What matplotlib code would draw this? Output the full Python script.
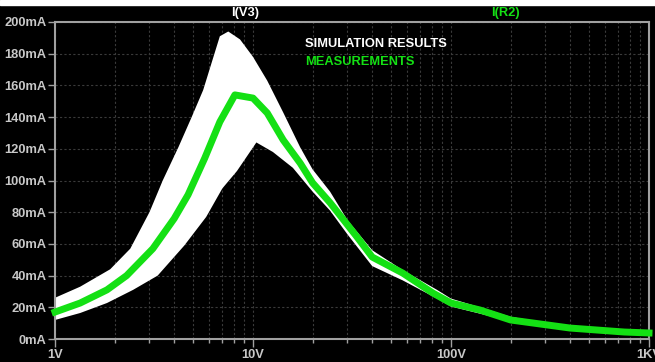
import numpy as np
import matplotlib
matplotlib.use("Agg")
import matplotlib.pyplot as plt
from matplotlib.patches import Rectangle
from matplotlib.ticker import FixedLocator, NullFormatter

# simulation envelope (white band)
sim_hi_v = [1, 1.34, 1.9, 2.4, 3.0, 3.5, 4.2, 4.9, 5.6, 6.8, 7.5, 8.6, 10, 11.8,
            14.2, 17.3, 20, 24.5, 30, 40, 57, 85, 100, 140, 200, 400, 1000]
sim_hi_ma = [26, 33, 44, 57, 80, 100, 121, 140, 157, 191, 194, 189, 178, 163,
             143, 121, 107, 93, 75, 56, 43.5, 31, 25.5, 20, 14, 7.6, 4.6]
sim_lo_v = [1, 1.34, 1.83, 2.48, 3.3, 4.5, 5.8, 7.0, 8.3, 10.4, 12.6, 15.9, 20,
            24.5, 30, 40, 57, 85, 100, 140, 200, 400, 1000]
sim_lo_ma = [12, 16.4, 22.7, 31, 40, 59, 77, 95, 106, 124, 118, 108, 93,
             81, 66, 46, 37, 25.5, 20.5, 16, 11, 6, 3.2]

# measurement (green)
meas_v = [1, 1.34, 1.83, 2.3, 3.12, 4.0, 4.7, 5.7, 6.8, 8.1, 10, 11.8, 14.2,
          17.3, 20, 24.5, 33.5, 40, 57, 81, 100, 140, 200, 400, 750, 1000]
meas_ma = [17, 22.7, 31, 40, 57, 76, 91, 114, 137, 154, 152, 142.6, 125.6,
           111, 98.5, 86, 64.4, 51.7, 41.6, 29, 22.7, 18.3, 12, 6.9, 4.4, 3.8]

x_ticks = [1, 10, 100, 1000]
x_labels = ["1V", "10V", "100V", "1KV"]
y_ticks = list(range(0, 201, 20))
y_labels = [f"{v}mA" for v in y_ticks]

W, H = 655, 362
fig = plt.figure(figsize=(W / 100, H / 100), dpi=100, facecolor="black")
fig.patches.append(Rectangle((0, 1 - 5 / H), 1, 5 / H, transform=fig.transFigure,
                             color="white", zorder=0))

ax = fig.add_axes([55 / W, 1 - 339 / H, 594 / W, 317 / H])
ax.set_facecolor("black")
ax.set_xscale("log")
ax.set_xlim(1, 1000)
ax.set_ylim(0, 200)

grid_col = "#3a3a3a"
ax.xaxis.set_minor_locator(FixedLocator([m * d for d in (1, 10, 100) for m in range(2, 10)]))
ax.xaxis.set_minor_formatter(NullFormatter())
ax.grid(which="both", axis="x", color=grid_col, linestyle=(0, (2, 2)), lw=0.8)
ax.grid(which="major", axis="y", color=grid_col, linestyle=(0, (2, 2)), lw=0.8)
ax.set_axisbelow(True)

ax.set_xticks(x_ticks)
ax.set_xticklabels(x_labels)
ax.set_yticks(y_ticks)
ax.set_yticklabels(y_labels)

lab_col = "#c8c8c8"
for lab in ax.get_xticklabels() + ax.get_yticklabels():
    lab.set_fontfamily("Liberation Sans")
    lab.set_fontweight("bold")
    lab.set_fontsize(9.3)
    lab.set_color(lab_col)
ax.tick_params(axis="y", which="major", length=5, width=1, color="#a0a0a0", pad=1)
ax.tick_params(axis="x", which="major", length=6, width=1, color="#a0a0a0", pad=1)
ax.tick_params(axis="x", which="minor", length=3, width=1, color="#a0a0a0")

for s in ax.spines.values():
    s.set_color("#a0a0a0")
    s.set_linewidth(1.5)

# white band of simulation results
ax.fill(np.concatenate([sim_hi_v, sim_lo_v[::-1]]),
        np.concatenate([sim_hi_ma, sim_lo_ma[::-1]]),
        color="white", lw=0, zorder=2)

ax.plot(meas_v, meas_ma, color="#14e014", lw=5, zorder=3, clip_on=False)

font = dict(family="Liberation Sans", fontweight="bold", fontsize=9.3)
fig.text(245 / W, 1 - 13 / H, "I(V3)", color="white", ha="center", va="center", **font)
fig.text(505 / W, 1 - 13 / H, "I(R2)", color="#14e014", ha="center", va="center", **font)
fig.text(305 / W, 1 - 44 / H, "SIMULATION RESULTS", color="white", ha="left", va="center", **font)
fig.text(305 / W, 1 - 62 / H, "MEASUREMENTS", color="#14e014", ha="left", va="center", **font)

fig.savefig("out.png", dpi=100, facecolor=fig.get_facecolor())
